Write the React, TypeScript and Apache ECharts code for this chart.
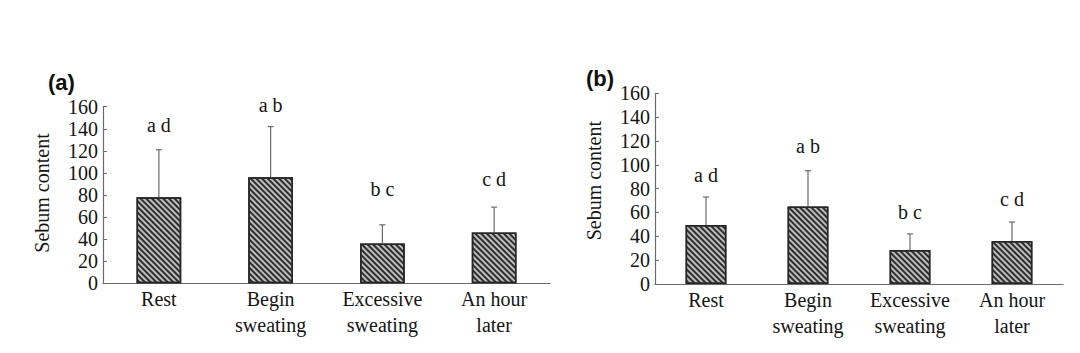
import React, { useEffect, useRef } from "react";
import * as echarts from "echarts";

const categories = ["Rest", "Begin\nsweating", "Excessive\nsweating", "An hour\nlater"];
const yTicks = [0, 20, 40, 60, 80, 100, 120, 140, 160];

const meansA = [78, 96, 36, 46];
const errTopA = [121, 142, 53, 69];
const lettersA = ["a d", "a b", "b c", "c d"];
const letterPosA = [143, 161.5, 85, 94.5];

const meansB = [49.5, 65, 28.5, 36];
const errTopB = [73, 95, 42, 52];
const lettersB = ["a d", "a b", "b c", "c d"];
const letterPosB = [91.5, 116, 60, 71.5];

const panelLabels = ["(a)", "(b)"];
const yName = "Sebum content";

const SERIF = "Liberation Serif";
const TEXT = "#151515";
const AXIS = "#6a6a6a";

export default function App() {
  const ref = useRef<HTMLDivElement>(null);
  useEffect(() => {
    if (!ref.current) return;
    const chart = echarts.init(ref.current, null, { renderer: "svg" });

    const grids = [
      { left: 103, top: 106.7, width: 447, height: 176.6 },
      { left: 655, top: 93.3, width: 408, height: 190.7 },
    ];
    const namePads = [[0, 0, 0, 4], [0, 0, 0, 16]];

    const xAxis = grids.map((_, i) => ({
      type: "category",
      gridIndex: i,
      data: categories,
      axisLine: { lineStyle: { color: AXIS, width: 1.2 } },
      axisTick: { inside: true, length: 4, lineStyle: { color: AXIS } },
      axisLabel: {
        color: TEXT,
        fontFamily: SERIF,
        fontSize: 20,
        lineHeight: 26,
        margin: 3,
        interval: 0,
      },
    }));

    const yAxis = grids.map((_, i) => ({
      type: "value",
      gridIndex: i,
      min: 0,
      max: 160,
      interval: 20,
      name: yName,
      nameLocation: "middle",
      nameGap: 51,
      nameRotate: 90,
      nameTextStyle: { color: TEXT, fontFamily: SERIF, fontSize: 20, padding: namePads[i] },
      axisLine: { show: true, lineStyle: { color: AXIS, width: 1.2 } },
      axisTick: { show: true, inside: true, length: 4, lineStyle: { color: AXIS } },
      axisLabel: {
        color: TEXT,
        fontFamily: SERIF,
        fontSize: 20,
        margin: 5,
        customValues: yTicks,
      },
      splitLine: { show: false },
    }));

    const panels = [
      { means: meansA, errTop: errTopA, letters: lettersA, letterPos: letterPosA },
      { means: meansB, errTop: errTopB, letters: lettersB, letterPos: letterPosB },
    ];

    const series: any[] = [];
    panels.forEach((p, i) => {
      series.push({
        type: "bar",
        xAxisIndex: i,
        yAxisIndex: i,
        data: p.means,
        barWidth: "40%",
        itemStyle: {
          color: "#bdbdbd",
          borderColor: "#262626",
          borderWidth: 1.5,
          decal: {
            symbol: "rect",
            symbolSize: 1,
            color: "#2e2e2e",
            dashArrayX: [1, 0],
            dashArrayY: [1.6, 1.4],
            rotation: Math.PI / 4,
          },
        },
        z: 2,
      });
      series.push({
        type: "custom",
        xAxisIndex: i,
        yAxisIndex: i,
        data: p.means.map((m, k) => [k, m, p.errTop[k], p.letterPos[k]]),
        clip: false,
        z: 3,
        renderItem: (params: any, api: any) => {
          const idx = api.value(0);
          const base = api.coord([idx, api.value(1)]);
          const top = api.coord([idx, api.value(2)]);
          const lab = api.coord([idx, api.value(3)]);
          const x = base[0];
          return {
            type: "group",
            children: [
              {
                type: "line",
                shape: { x1: x, y1: base[1], x2: x, y2: top[1] },
                style: { stroke: AXIS, lineWidth: 1.2 },
              },
              {
                type: "line",
                shape: { x1: x - 3, y1: top[1], x2: x + 3, y2: top[1] },
                style: { stroke: AXIS, lineWidth: 1.2 },
              },
              {
                type: "text",
                x: x,
                y: lab[1],
                style: {
                  text: p.letters[params.dataIndex],
                  fill: TEXT,
                  fontFamily: SERIF,
                  fontSize: 20,
                  align: "center",
                  verticalAlign: "middle",
                },
              },
            ],
          };
        },
      });
    });

    chart.setOption({
      animation: false,
      backgroundColor: "#ffffff",
      grid: grids,
      xAxis,
      yAxis,
      series,
      graphic: [
        {
          type: "text",
          left: 48,
          top: 71,
          style: {
            text: panelLabels[0],
            fill: "#111",
            fontFamily: "Liberation Sans",
            fontWeight: "bold",
            fontSize: 22,
          },
        },
        {
          type: "text",
          left: 586,
          top: 67,
          style: {
            text: panelLabels[1],
            fill: "#111",
            fontFamily: "Liberation Sans",
            fontWeight: "bold",
            fontSize: 22,
          },
        },
      ],
    });
    return () => chart.dispose();
  }, []);
  return (
    <div
      ref={ref}
      style={{ position: "fixed", left: 0, top: 0, width: 1080, height: 353, background: "#fff" }}
    />
  );
}
